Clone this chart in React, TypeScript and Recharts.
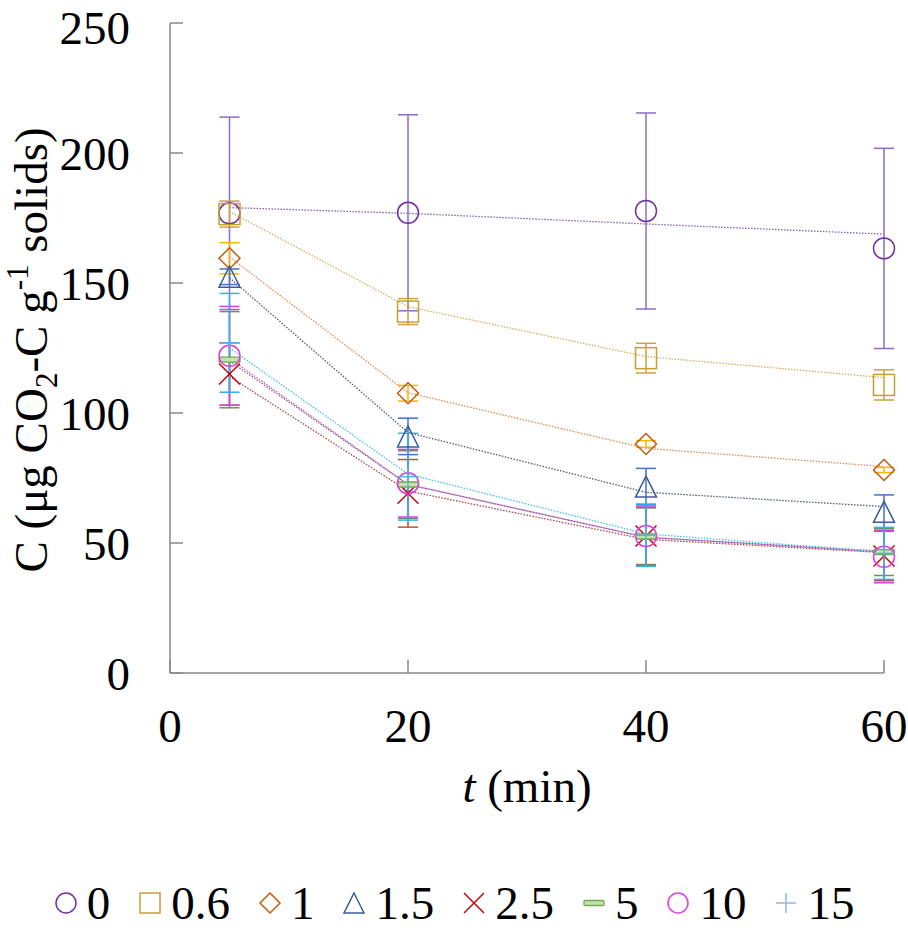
import React from "react";
import {
  ComposedChart,
  Line,
  Scatter,
  ErrorBar,
  XAxis,
  YAxis,
  Label,
} from "recharts";

const times = [5, 20, 40, 60];
const seriesNames = ["0", "0.6", "1", "1.5", "2.5", "5", "10", "15"];

// measured means
const mean0 = [176.8, 177, 177.7, 163.3];
const mean06 = [176.5, 139, 121.1, 110.8];
const mean1 = [159.5, 107.6, 88.1, 78.1];
const mean15 = [152.4, 91, 71.7, 62];
const mean25 = [115, 69.1, 52.7, 45];
const mean5 = [120.5, 72.5, 52.5, 46.5];
const mean10 = [122, 73, 52.7, 44.7];
const mean15b = [127, 75.5, 53, 46];

// error bar half-lengths
const err0 = [37, 37.7, 37.7, 38.5];
const err06 = [5, 5, 5.7, 5.8];
const err1 = [6, 3, 1.3, 1];
const err15 = [3, 7, 7, 6.5];
const err25 = [12, 13, 11, 9.5];
const err5 = [18.5, 13, 11, 9];
const err10 = [19, 13, 11.5, 10];
const err15b = [19, 16.7, 12, 10];

// model fit values
const fit0 = [179, 176.8, 172.7, 168.8];
const fit06 = [177.5, 140.9, 121.7, 113.6];
const fit1 = [160, 107.8, 86.4, 79.4];
const fit15 = [152, 92.5, 69.5, 64];
const fit25 = [114, 70, 51.4, 46.3];
const fit5 = [120, 72.5, 52.2, 46.8];
const fit10 = [121, 72.5, 52.2, 46.5];
const fit15b = [125, 76.5, 53.5, 46.6];

const xTicks = [0, 20, 40, 60];
const yTicks = [0, 50, 100, 150, 200, 250];

const means = [mean0, mean06, mean1, mean15, mean25, mean5, mean10, mean15b];
const errs = [err0, err06, err1, err15, err25, err5, err10, err15b];
const fits = [fit0, fit06, fit1, fit15, fit25, fit5, fit10, fit15b];

const markerColors = ["#7030A0", "#C4A035", "#C55A11", "#3A5C9C", "#C00000", "#70AD47", "#E03FE0", "#5AB0E6"];
const errColors = ["#8C6CC8", "#C9A33B", "#F5B800", "#4472C4", "#B0563A", "#6F8F5E", "#E040E0", "#2EB3EC"];
const lineColors = ["#7E63B8", "#D2B05A", "#D98A55", "#505A70", "#A04848", "#8A5A8A", "#C060C8", "#45C0EE"];
const shapes = ["circle", "square", "diamond", "triangle", "x", "dash", "circle", "plus"];

const data = times.map((t, i) => {
  const row: any = { t };
  seriesNames.forEach((_, s) => {
    row[`m${s}`] = means[s][i];
    row[`e${s}`] = errs[s][i];
    row[`f${s}`] = fits[s][i];
  });
  return row;
});

const FONT = "'Liberation Serif', 'Times New Roman', serif";
const FS = 47;

function Marker({ kind, cx, cy, color, size = 21 }: any) {
  const h = size / 2;
  const sw = 1.5;
  switch (kind) {
    case "circle":
      return <circle cx={cx} cy={cy} r={h} fill="none" stroke={color} strokeWidth={sw} />;
    case "square":
      return <rect x={cx - h} y={cy - h} width={size} height={size} fill="none" stroke={color} strokeWidth={sw} />;
    case "diamond":
      return (
        <polygon
          points={`${cx},${cy - h} ${cx + h},${cy} ${cx},${cy + h} ${cx - h},${cy}`}
          fill="none"
          stroke={color}
          strokeWidth={sw}
        />
      );
    case "triangle":
      return (
        <polygon
          points={`${cx},${cy - h} ${cx + h},${cy + h} ${cx - h},${cy + h}`}
          fill="none"
          stroke={color}
          strokeWidth={sw}
        />
      );
    case "x":
      return (
        <g stroke={color} strokeWidth={sw}>
          <line x1={cx - h} y1={cy - h} x2={cx + h} y2={cy + h} />
          <line x1={cx - h} y1={cy + h} x2={cx + h} y2={cy - h} />
        </g>
      );
    case "dash":
      return <rect x={cx - h} y={cy - 2.5} width={size} height={5} rx={1} fill="#C5E0B4" stroke={color} strokeWidth={1.3} />;
    case "plus":
      return (
        <g stroke={color} strokeWidth={sw}>
          <line x1={cx - h} y1={cy} x2={cx + h} y2={cy} />
          <line x1={cx} y1={cy - h} x2={cx} y2={cy + h} />
        </g>
      );
    default:
      return null;
  }
}

const YTitle = () => (
  <text
    x={47}
    y={350}
    transform="rotate(-90 47 350)"
    textAnchor="middle"
    fontSize={FS}
    fontFamily={FONT}
    fill="#000"
  >
    C (μg CO
    <tspan dy={10} fontSize={31}>2</tspan>
    <tspan dy={-10}>-C g</tspan>
    <tspan dy={-19} fontSize={31}>-1</tspan>
    <tspan dy={19}>{" solids)"}</tspan>
  </text>
);

const XTitle = (props: any) => {
  const vb = props.viewBox || { x: 170, y: 673, width: 714 };
  return (
    <text
      x={vb.x + vb.width / 2}
      y={vb.y + 129}
      textAnchor="middle"
      fontSize={FS}
      fontFamily={FONT}
      fill="#000"
    >
      <tspan fontStyle="italic">t</tspan>
      {" (min)"}
    </text>
  );
};

function LegendRow() {
  return (
    <div
      style={{
        position: "absolute",
        left: 0,
        top: 876,
        width: 908,
        height: 54,
        display: "flex",
        justifyContent: "center",
        alignItems: "center",
        fontFamily: FONT,
        fontSize: FS,
        lineHeight: "54px",
        color: "#000",
      }}
    >
      {seriesNames.map((name, s) => (
        <div key={name} style={{ display: "flex", alignItems: "center", marginRight: s < 7 ? 28 : 0 }}>
          <svg width={24} height={24} style={{ marginRight: 9 }}>
            <Marker kind={shapes[s]} cx={12} cy={12} color={s === 7 ? "#8FB8E0" : markerColors[s]} size={20} />
          </svg>
          <span>{name}</span>
        </div>
      ))}
    </div>
  );
}

export default function App() {
  return (
    <div style={{ position: "relative", width: 908, height: 931, overflow: "hidden" }}>
      <style>{`body{margin:0;overflow:hidden;}`}</style>
      <ComposedChart
        width={908}
        height={931}
        data={data}
        margin={{ top: 23, right: 24, left: 0, bottom: 138 }}
      >
        <XAxis
          dataKey="t"
          type="number"
          domain={[0, 60]}
          ticks={xTicks}
          height={120}
          stroke="#888"
          strokeWidth={1.5}
          tickSize={-13}
          tickMargin={49}
          tickLine={{ stroke: "#888", strokeWidth: 1.5 }}
          tick={{ fontSize: FS, fontFamily: FONT, fill: "#000" }}
        >
          <Label content={<XTitle />} />
        </XAxis>
        <YAxis
          type="number"
          domain={[0, 250]}
          ticks={yTicks}
          width={170}
          stroke="#888"
          strokeWidth={1.5}
          tickSize={-13}
          tickMargin={53}
          tickLine={{ stroke: "#888", strokeWidth: 1.5 }}
          tick={{ fontSize: FS, fontFamily: FONT, fill: "#000" }}
        >
          <Label content={<YTitle />} />
        </YAxis>
        {seriesNames.map((name, s) => (
          <Line
            key={`f${s}`}
            dataKey={`f${s}`}
            type="linear"
            stroke={lineColors[s]}
            strokeWidth={1.3}
            strokeDasharray="1.5 1.5"
            dot={false}
            activeDot={false}
            isAnimationActive={false}
            legendType="none"
          />
        ))}
        {seriesNames.map((name, s) => (
          <Scatter
            key={`m${s}`}
            name={name}
            dataKey={`m${s}`}
            isAnimationActive={false}
            shape={(p: any) => <Marker kind={shapes[s]} cx={p.cx} cy={p.cy} color={markerColors[s]} />}
          >
            <ErrorBar dataKey={`e${s}`} direction="y" width={10} stroke={errColors[s]} strokeWidth={1.5} />
          </Scatter>
        ))}
      </ComposedChart>
      <LegendRow />
    </div>
  );
}
